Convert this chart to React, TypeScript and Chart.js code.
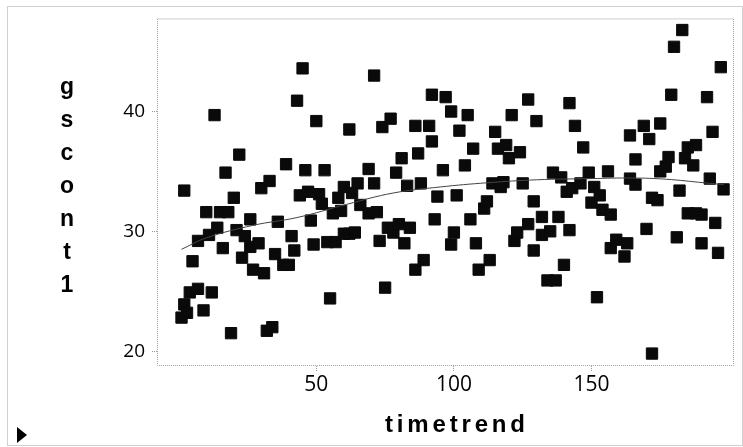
import React, { useEffect, useRef } from 'react';
import { Chart, registerables } from 'chart.js';
Chart.register(...registerables);

const timetrend = [
  1, 2, 2, 3, 4, 5, 7, 7, 9, 10, 11, 12, 13, 14, 15, 16, 17, 18, 19, 20,
  21, 22, 23, 24, 26, 26, 27, 29, 30, 31, 32, 33, 34, 35, 36, 38, 39, 40, 41, 42,
  43, 44, 45, 46, 47, 48, 49, 50, 51, 52, 53, 54, 55, 56, 57, 58, 59, 60, 60, 62,
  62, 63, 64, 65, 66, 69, 69, 71, 71, 72, 73, 74, 75, 76, 77, 78, 79, 80, 81, 82,
  83, 84, 86, 86, 87, 88, 89, 91, 92, 92, 93, 94, 96, 97, 99, 99, 100, 101, 102, 104,
  105, 106, 107, 108, 109, 111, 112, 113, 114, 115, 116, 117, 118, 119, 120, 121, 122, 123, 124, 125,
  127, 127, 129, 129, 130, 132, 132, 134, 135, 136, 137, 138, 139, 140, 141, 142, 142, 143, 144, 146,
  147, 149, 150, 151, 152, 153, 154, 156, 157, 157, 159, 162, 163, 164, 164, 166, 166, 169, 170, 171,
  172, 172, 174, 175, 175, 177, 178, 179, 180, 181, 182, 183, 184, 185, 185, 187, 188, 188, 190, 190,
  192, 193, 194, 195, 196, 197, 198,
];
const gscont1 = [
  22.8, 33.4, 23.9, 23.2, 24.9, 27.5, 25.2, 29.2, 23.4, 31.6, 29.7, 24.9, 39.7, 30.3, 31.6, 28.6, 34.9, 31.6, 21.5, 32.8,
  30.1, 36.4, 27.8, 29.6, 31.0, 28.7, 26.8, 29.0, 33.6, 26.5, 21.7, 34.2, 22.0, 28.1, 30.8, 27.2, 35.6, 27.2, 29.6, 28.4,
  40.9, 33.0, 43.6, 35.1, 33.3, 30.9, 28.9, 39.2, 33.1, 32.3, 35.1, 29.1, 24.4, 31.5, 29.1, 32.8, 31.7, 33.7, 29.8, 38.5,
  29.8, 33.2, 29.9, 34.0, 32.2, 31.5, 35.2, 34.0, 43.0, 31.6, 29.2, 38.7, 25.3, 30.3, 39.4, 29.9, 34.9, 30.6, 36.1, 29.0,
  33.8, 30.3, 38.8, 26.8, 36.5, 34.0, 27.6, 38.8, 41.4, 37.5, 31.0, 32.9, 35.1, 41.2, 40.0, 28.9, 29.9, 33.0, 38.4, 35.5,
  39.7, 31.0, 36.9, 29.0, 26.8, 31.9, 32.5, 27.6, 34.0, 38.3, 36.9, 33.7, 34.1, 37.2, 36.1, 39.7, 29.2, 29.9, 36.6, 34.0,
  41.0, 30.6, 32.5, 28.4, 39.2, 31.2, 29.7, 25.9, 30.0, 34.9, 25.9, 31.2, 34.5, 27.2, 33.3, 40.7, 30.1, 33.6, 38.8, 34.0,
  37.0, 34.9, 32.4, 33.7, 24.5, 33.0, 31.8, 35.0, 28.6, 31.4, 29.3, 27.9, 29.0, 38.0, 34.4, 33.9, 36.0, 38.8, 30.2, 37.7,
  32.8, 19.8, 32.6, 39.0, 35.0, 35.4, 36.2, 41.4, 45.4, 29.5, 33.4, 46.8, 36.1, 37.0, 31.5, 35.5, 37.2, 31.5, 29.0, 31.4,
  41.2, 34.4, 38.3, 30.7, 28.2, 43.7, 33.5,
];
const smoothX = [1, 10, 27, 43, 61, 78, 95, 112, 130, 150, 165, 177, 191, 198];
const smoothY = [28.5, 29.45, 30.5, 31.15, 32.25, 33.2, 33.7, 34.05, 34.3, 34.4, 34.45, 34.35, 34.05, 33.9];
const xTicks = [50, 100, 150];
const yTicks = [20, 30, 40];
const xTitle = 'timetrend';
const yTitle = 'gscont1';

const decor = {
  id: 'decor',
  beforeDatasetsDraw(chart: any) {
    const { ctx, chartArea: a } = chart;
    ctx.save();
    ctx.strokeStyle = '#a0a0a0';
    ctx.lineWidth = 1;
    ctx.setLineDash([1, 1]);
    ctx.strokeRect(a.left + 0.5, a.top + 0.5, a.right - a.left - 1, a.bottom - a.top - 1);
    ctx.strokeRect(7.5, 6.5, 735, 439);
    ctx.restore();
  },
  afterDraw(chart: any) {
    const { ctx } = chart;
    ctx.save();
    ctx.fillStyle = '#000';
    ctx.font = 'bold 23px "Liberation Sans", Arial, sans-serif';
    ctx.textAlign = 'center';
    ctx.textBaseline = 'alphabetic';
    const chars = yTitle.split('');
    chars.forEach((c, i) => ctx.fillText(c, 67, 94 + i * 33));
    ctx.font = 'bold 24px "Liberation Sans", Arial, sans-serif';
    ctx.textAlign = 'left';
    const w = ctx.measureText(xTitle).width;
    const sp = (140 - w) / (xTitle.length - 1);
    (ctx as any).letterSpacing = sp + 'px';
    ctx.fillText(xTitle, 385, 432);
    (ctx as any).letterSpacing = '0px';
    ctx.beginPath();
    ctx.moveTo(17, 427);
    ctx.lineTo(27, 435);
    ctx.lineTo(17, 443);
    ctx.closePath();
    ctx.fill();
    ctx.restore();
  },
};

export default function App() {
  const ref = useRef<HTMLCanvasElement>(null);
  useEffect(() => {
    const pts = timetrend.map((x, i) => ({ x, y: gscont1[i] }));
    const line = smoothX.map((x, i) => ({ x, y: smoothY[i] }));
    const chart = new Chart(ref.current!, {
      type: 'scatter',
      data: {
        datasets: [
          {
            data: line,
            showLine: true,
            borderColor: '#444',
            borderWidth: 1,
            pointRadius: 0,
            tension: 0.4,
            fill: false,
          } as any,
          {
            data: pts,
            pointStyle: 'rect',
            pointRadius: 8,
            pointBackgroundColor: '#0a0a0a',
            pointBorderColor: '#0a0a0a',
            pointBorderWidth: 1,
          } as any,
        ],
      },
      options: {
        animation: false,
        responsive: false,
        devicePixelRatio: 1,
        layout: { padding: { left: 0, top: 15, right: 3, bottom: 0 } },
        plugins: { legend: { display: false }, tooltip: { enabled: false } },
        scales: {
          x: {
            type: 'linear',
            min: -7.91,
            max: 201.8,
            afterFit: (s: any) => { s.height = 81; },
            afterBuildTicks: (s: any) => { s.ticks = xTicks.map((v) => ({ value: v })); },
            grid: { drawOnChartArea: false, drawTicks: true, tickLength: 5, color: '#999', tickBorderDash: [1, 1] },
            border: { display: false },
            ticks: { color: '#000', padding: 1, font: { family: '"Open Sans", sans-serif', size: 21 } },
          },
          y: {
            type: 'linear',
            min: 18.76,
            max: 47.77,
            afterFit: (s: any) => { s.width = 157; },
            afterBuildTicks: (s: any) => { s.ticks = yTicks.map((v) => ({ value: v })); },
            grid: { drawOnChartArea: false, drawTicks: true, tickLength: 5, color: '#999', tickBorderDash: [1, 1] },
            border: { display: false },
            ticks: { color: '#000', padding: 7, font: { family: '"Open Sans", sans-serif', size: 19 } },
          },
        },
      },
      plugins: [decor],
    });
    return () => chart.destroy();
  }, []);
  return (
    <div style={{ position: 'absolute', left: 0, top: 0, width: 743, height: 447, background: '#fff' }}>
      <canvas ref={ref} width={743} height={447} />
    </div>
  );
}
